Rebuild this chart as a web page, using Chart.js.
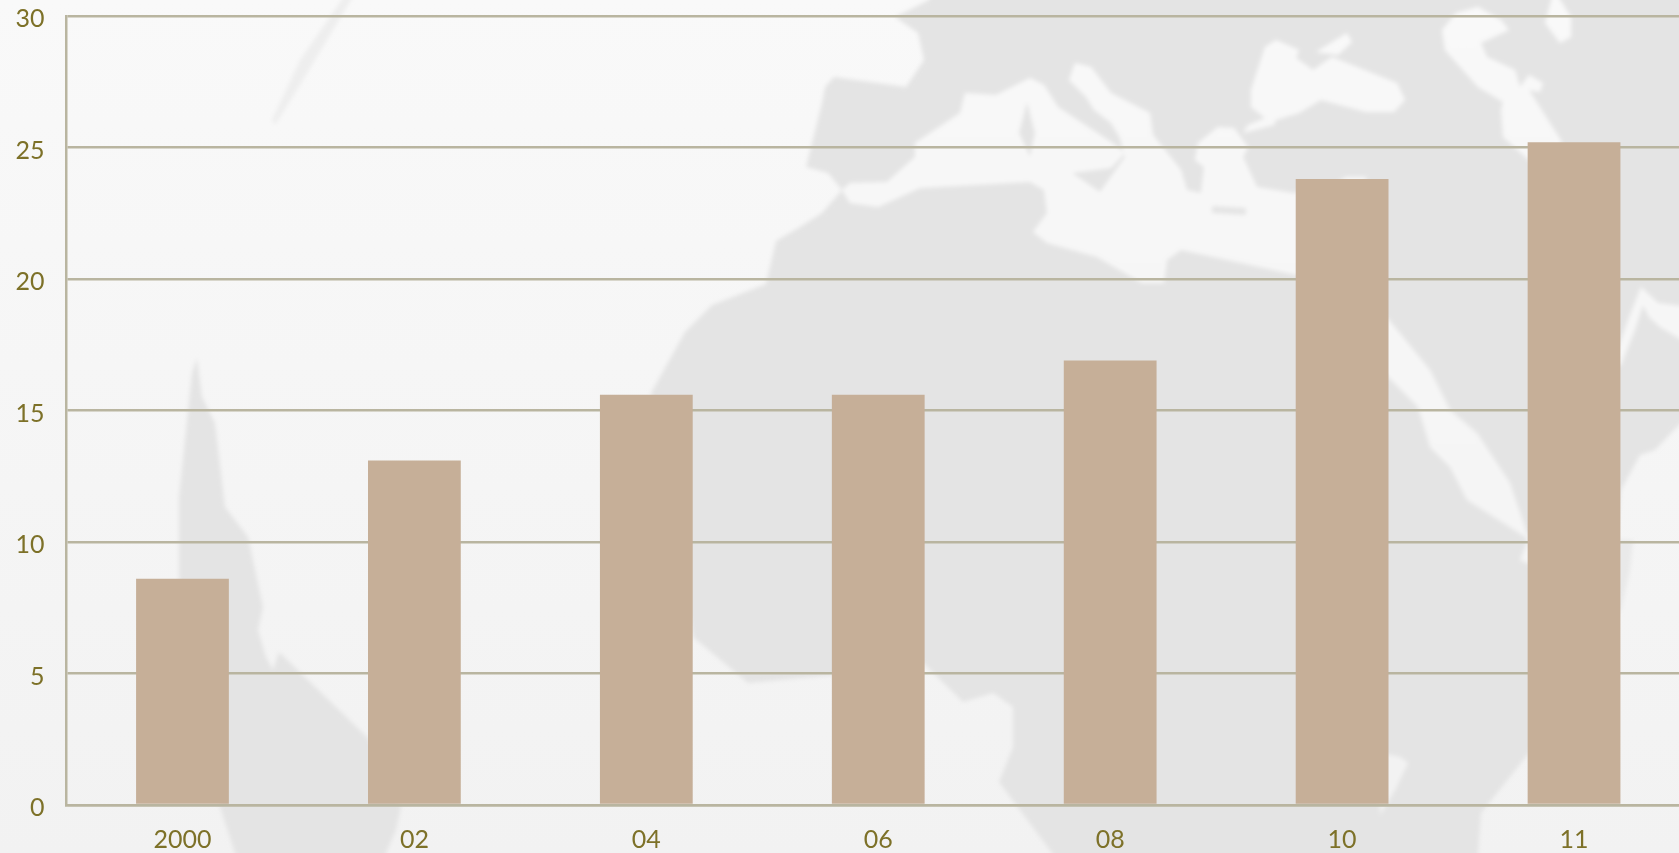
<!DOCTYPE html>
<html>
<head>
<meta charset="utf-8">
<title>Chart</title>
<style>
    html, body { margin: 0; padding: 0; width: 1679px; height: 853px; overflow: hidden; background: #f6f6f6; }
    #map { position: absolute; left: 0; top: 0; }
    #myChart { position: absolute; left: 0; top: 0; }
</style>
<script src="https://cdn.jsdelivr.net/npm/chart.js@4"></script>
</head>
<body>
<!-- background world map, decoration only -->
<svg id="map" width="1679" height="853" viewBox="0 0 1679 853">
    <defs>
        <linearGradient id="bg" gradientUnits="userSpaceOnUse" x1="0" y1="0" x2="0" y2="853">
            <stop offset="0" stop-color="#f9f9f9"/>
            <stop offset="1" stop-color="#f2f2f2"/>
        </linearGradient>
        <filter id="soft" filterUnits="userSpaceOnUse" x="-30" y="-30" width="1760" height="920">
            <feGaussianBlur stdDeviation="2"/>
        </filter>
    </defs>
    <rect width="1679" height="853" fill="url(#bg)"/>
    <g filter="url(#soft)">
        <g fill="#e4e4e4">
            <!-- europe, africa, asia -->
            <polygon points="936,-20 929,0 895,17 918,33 924,60 906,87 834,77 825,87 822,103 806,167 828,173 842,190 822,213 800,227 776,241 766,284 712,305 685,332 651,393 693,637 748,683 832,675 923,663 963,702 993,693 1013,707 1013,747 999,782 1052,853 1065,880 1478,880 1478,853 1481,813 1529,753 1610,600 1621,490 1640,455 1655,450 1679,425 1710,400 1710,-20"/>
            <!-- americas -->
            <polygon points="197,358 192,373 179,497 179,577 220,807 235,853 240,880 380,880 386,853 396,830 401,807 368,738 279,652 273,670 266,657 258,630 263,607 248,537 225,507 215,423 202,397"/>
        </g>
        <polygon fill="#e9e9e9" points="1610,540 1633,540 1630,570 1621,610 1610,620"/>
        <polygon fill="#eeeeee" points="345,-5 354,-5 300,85 275,125 272,120 300,60"/>
        <g fill="url(#bg)">
            <!-- mediterranean -->
            <polygon points="842,190 850,183 887,182 915,157 915,143 960,113 965,93 996,95 1030,78 1044,85 1058,107 1111,142 1125,153 1111,168 1072,173 1100,192 1125,157 1120,138 1111,123 1094,110 1086,97 1069,80 1075,63 1091,67 1111,93 1150,113 1153,135 1181,170 1187,190 1201,193 1204,167 1195,160 1198,143 1218,127 1234,128 1248,147 1243,157 1257,187 1293,193 1330,188 1346,177 1366,177 1369,270 1296,275 1181,250 1167,260 1164,283 1142,283 1097,257 1047,243 1033,232 1047,213 1044,190 1030,182 920,188 878,207 850,203"/>
            <!-- black sea -->
            <polygon points="1276,40 1299,50 1296,58 1313,70 1332,57 1397,83 1405,100 1394,112 1366,112 1321,100 1299,113 1276,120 1274,125 1243,133 1248,125 1265,118 1251,107 1251,90 1265,47"/>
            <polygon points="1316,52 1347,33 1352,42 1338,55"/>
            <!-- caspian, gulf -->
            <polygon points="1478,7 1501,20 1509,30 1481,43 1487,57 1515,70 1520,87 1529,75 1543,83 1540,92 1529,90 1562,142 1540,170 1503,137 1501,110 1503,102 1478,87 1445,50 1442,30 1456,13"/>
            <polygon points="1554,-10 1571,17 1571,37 1560,43 1545,23"/>
            <!-- red sea -->
            <polygon points="1360,300 1389,320 1430,370 1450,410 1477,433 1510,483 1527,533 1540,540 1540,570 1527,563 1520,560 1527,543 1527,538 1467,500 1450,467 1430,447 1418,407 1389,378 1360,340"/>
            <!-- persian gulf -->
            <polygon points="1610,370 1628,320 1641,287 1658,303 1690,307 1690,345 1660,327 1649,317 1643,305 1635,330 1621,365"/>
            <!-- madagascar channel side -->
            <polygon points="1380,753 1400,757 1408,763 1395,790 1380,815"/>
        </g>
        <g fill="#e4e4e4">
            <polygon points="1027,102 1019,133 1030,157 1035,133"/>
            <polygon points="1212,206 1246,208 1246,215 1212,213"/>
        </g>
    </g>
</svg>
<canvas id="myChart" width="1690" height="853"></canvas>
<script>
const categories = ['2000', '02', '04', '06', '08', '10', '11'];
const values = [8.6, 13.1, 15.6, 15.6, 16.9, 23.8, 25.2];
const yMax = 30;
const yStep = 5;

const lineColor = '#b9b5a0';
const textColor = '#7d7128';
const barColor = '#c6af98';

const labelFont = { family: 'Lato', size: 25 };

new Chart(document.getElementById('myChart').getContext('2d'), {
    type: 'bar',
    data: {
        labels: categories,
        datasets: [{
            data: values,
            backgroundColor: barColor,
            borderWidth: 0,
            barPercentage: 0.4,
            categoryPercentage: 1
        }]
    },
    options: {
        responsive: false,
        animation: false,
        layout: { padding: { top: 16, left: 0, right: 0, bottom: 0 } },
        plugins: {
            legend: { display: false },
            tooltip: { enabled: false },
            title: { display: false }
        },
        scales: {
            x: {
                afterFit: (scale) => { scale.height = 48; },
                grid: { display: false },
                border: { display: true, color: lineColor, width: 2.5 },
                ticks: {
                    color: textColor,
                    font: labelFont,
                    padding: 12,
                    maxRotation: 0,
                    autoSkip: false
                }
            },
            y: {
                min: 0,
                max: yMax,
                afterFit: (scale) => {
                    scale.width = 66.5;
                    // no room for half a tick label above the top line
                    scale.paddingTop = 0;
                    scale.paddingBottom = 0;
                },
                grid: { color: lineColor, lineWidth: 2.5, drawTicks: false },
                border: { display: true, color: lineColor, width: 2.5 },
                ticks: {
                    stepSize: yStep,
                    color: textColor,
                    font: labelFont,
                    padding: 22,
                    labelOffset: 3
                }
            }
        }
    }
});
</script>
</body>
</html>
